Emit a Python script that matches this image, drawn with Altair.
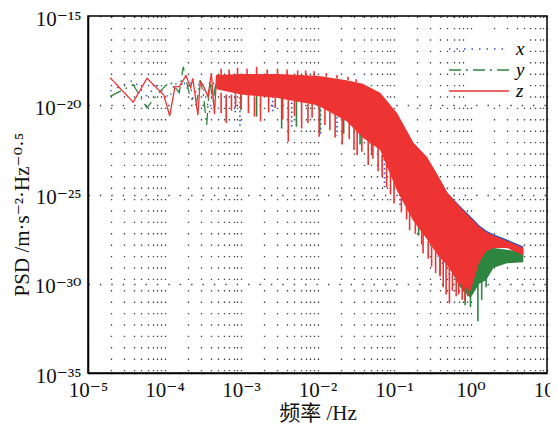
import altair as alt
import pandas as pd

SERIES = ["x", "y", "z"]
COLORS = ["#2f52b8", "#2e8540", "#ee3333"]
DASHES = [[1.5, 6], [12, 5, 2, 5], [1, 0]]

# ---- low-frequency sparse traces: frequency (Hz) and log10(PSD) ----
x_lf_f = [1.95e-5, 3.9e-5, 5.9e-5, 7.8e-5, 9.8e-5, 1.17e-4, 1.37e-4, 1.56e-4, 1.76e-4, 1.95e-4, 2.15e-4, 2.34e-4, 2.73e-4, 2.93e-4, 3.2e-4, 3.9e-4, 4.4e-4, 4.8e-4]
x_lf_e = [-19.2, -18.6, -19.5, -18.9, -19.3, -19.6, -18.7, -19.2, -18.6, -19.1, -18.7, -19.6, -19.0, -18.6, -19.0, -20.4, -18.7, -19.3]

y_lf_f = [1.95e-5, 3.9e-5, 5.9e-5, 7.8e-5, 9.8e-5, 1.17e-4, 1.37e-4, 1.56e-4, 1.76e-4, 1.95e-4, 2.15e-4, 2.6e-4, 2.93e-4, 3.2e-4, 3.56e-4, 3.9e-4, 4.3e-4, 4.8e-4]
y_lf_e = [-19.5, -18.85, -20.15, -19.47, -19.0, -18.68, -19.0, -19.3, -17.85, -18.7, -19.5, -20.0, -18.6, -19.3, -21.1, -18.6, -19.8, -18.5]

z_lf_f = [1.95e-5, 3.9e-5, 5.9e-5, 9.8e-5, 1.17e-4, 1.37e-4, 1.56e-4, 1.91e-4, 2.2e-4, 2.34e-4, 2.73e-4, 2.93e-4, 3.2e-4, 3.7e-4, 4.1e-4, 4.5e-4, 4.8e-4]
z_lf_e = [-18.46, -19.83, -18.49, -19.43, -20.6, -18.96, -18.96, -18.34, -19.03, -18.49, -20.55, -18.68, -18.87, -19.52, -18.2, -20.5, -18.3]

# ---- dense part: envelope (top / core bottom) of log10(PSD) ----
band_f = [4.8e-4, 1e-3, 3e-3, 1e-2, 2.4e-2, 3.9e-2, 6.6e-2, 0.11, 0.18, 0.27, 0.36, 0.5, 0.73, 1.0, 1.3, 1.6, 2.0, 3.0, 4.9]
x_top = [-18.4, -18.3, -18.3, -18.4, -18.65, -18.85, -19.35, -20.5, -22.15, -22.95, -23.85, -24.9, -25.65, -26.22, -26.72, -27.02, -27.22, -27.52, -27.92]
x_bot = [-19.0, -19.3, -19.5, -19.9, -20.8, -21.7, -22.4, -24.7, -26.4, -27.4, -28.2, -28.9, -29.9, -30.2, -28.6, -28.1, -27.9, -27.9, -28.3]
y_top = [-18.4, -18.35, -18.35, -18.45, -18.7, -18.9, -19.4, -20.6, -22.2, -23.0, -23.9, -25.0, -25.8, -26.6, -27.5, -27.9, -28.0, -28.1, -28.2]
y_bot = [-19.0, -19.35, -19.5, -19.9, -20.8, -21.7, -22.4, -24.7, -26.4, -27.4, -28.2, -28.9, -30.2, -30.8, -30.0, -29.8, -29.1, -28.85, -28.8]
z_top = [-18.3, -18.25, -18.25, -18.35, -18.6, -18.8, -19.3, -20.45, -22.1, -22.9, -23.8, -24.9, -25.7, -26.3, -26.8, -27.1, -27.3, -27.6, -28.0]
z_bot = [-19.1, -19.4, -19.6, -20.0, -20.9, -21.8, -22.5, -24.8, -26.5, -27.5, -28.3, -29.0, -30.0, -30.4, -28.8, -28.2, -28.0, -28.0, -28.4]

# ---- dips below the dense core (and peaks above it): frequency, from, to (log10 PSD) ----
x_spk_f = [8.4e-4, 9.7e-4, 2.6e-3, 4.6e-3, 1.1e-2, 1.8e-2, 4.9e-2, 0.07, 0.075, 0.12, 0.38, 0.43, 0.53]
x_spk_a = [-19.3, -19.3, -19.5, -19.6, -20.0, -20.4, -21.8, -22.3, -22.5, -25.0, -27.9, -28.3, -28.9]
x_spk_b = [-20.55, -21.3, -20.4, -21.2, -21.6, -21.7, -22.3, -23.25, -24.6, -25.7, -28.6, -29.05, -29.7]

y_spk_f = [1.0e-3, 1.6e-3, 3.4e-3, 5.3e-3, 1.07e-2, 2.2e-2, 3.6e-2, 5.1e-2, 8.1e-2, 0.21, 0.4, 0.85, 1.0, 1.25, 1.4, 1.6]
y_spk_a = [-19.3, -19.4, -19.5, -19.6, -19.9, -20.7, -21.3, -21.9, -22.8, -26.5, -28.5, -30.2, -30.6, -30.0, -29.7, -29.5]
y_spk_b = [-20.27, -20.64, -21.3, -21.2, -21.5, -21.6, -22.2, -22.8, -23.5, -27.3, -29.5, -31.2, -31.3, -32.1, -30.9, -30.2]

z_spk_f = [5.5e-4, 6.4e-4, 7.5e-4, 8.5e-4, 1.0e-3, 1.25e-3, 1.5e-3, 1.8e-3, 2.3e-3, 2.8e-3, 3.5e-3, 4.15e-3, 5.0e-3, 6.2e-3, 7.5e-3, 8.5e-3,
           1.05e-2, 1.25e-2, 1.45e-2, 1.7e-2, 2.1e-2, 2.6e-2, 3.0e-2, 3.3e-2, 3.8e-2, 4.6e-2, 5.3e-2, 6.2e-2, 7.0e-2, 8.0e-2, 9.0e-2,
           0.1, 0.125, 0.146, 0.16, 0.19, 0.23, 0.24, 0.28, 0.31, 0.35, 0.4, 0.44, 0.48, 0.53, 0.58, 0.65, 0.7, 0.78, 0.85, 0.92]
z_spk_a = [-19.3, -19.4, -19.4, -19.4, -19.4, -19.4, -19.5, -19.5, -19.5, -19.6, -19.6, -19.7, -19.7, -19.8, -19.9, -19.9,
           -20.0, -20.1, -20.2, -20.4, -20.6, -20.9, -21.2, -21.4, -21.7, -21.9, -22.1, -22.3, -22.8, -23.3, -23.8,
           -24.3, -25.2, -25.6, -25.9, -26.6, -27.0, -27.1, -27.6, -27.9, -28.2, -28.5, -28.7, -28.9, -29.1, -29.4, -29.6, -29.8, -30.0, -30.1, -30.2]
z_spk_b = [-20.45, -21.0, -20.3, -20.1, -20.2, -20.45, -20.64, -20.9, -20.4, -20.15, -20.8, -22.04, -20.6, -21.3, -21.0, -20.7,
           -21.76, -21.1, -21.4, -21.8, -22.2, -21.9, -22.5, -22.8, -22.6, -23.35, -23.0, -23.7, -24.0, -24.6, -25.0,
           -25.5, -26.0, -26.4, -27.0, -27.2, -27.8, -28.3, -28.6, -29.05, -29.4, -29.6, -30.2, -30.6, -31.1, -30.4, -30.7, -30.6, -30.9, -31.0, -30.7]

z_up_f = [5.5e-4, 7e-4, 9e-4, 1.2e-3, 1.6e-3, 2.2e-3, 3e-3, 4e-3, 5.5e-3, 7e-3, 9e-3, 1.3e-2, 1.8e-2, 2.5e-2, 3.2e-2]
z_up_a = [-18.3, -18.3, -18.25, -18.25, -18.25, -18.25, -18.25, -18.3, -18.3, -18.3, -18.35, -18.4, -18.5, -18.6, -18.7]
z_up_b = [-17.95, -18.0, -17.9, -17.95, -17.85, -18.0, -17.95, -18.0, -18.05, -18.05, -18.1, -18.2, -18.3, -18.4, -18.55]

X_TICK_DECADES = [-5, -4, -3, -2, -1, 0, 1]
Y_TICK_DECADES = [-35, -30, -25, -20, -15]

LF = {"x": (x_lf_f, x_lf_e), "y": (y_lf_f, y_lf_e), "z": (z_lf_f, z_lf_e)}
BAND = {"x": (x_top, x_bot), "y": (y_top, y_bot), "z": (z_top, z_bot)}
SPK = {"x": (x_spk_f, x_spk_a, x_spk_b), "y": (y_spk_f, y_spk_a, y_spk_b),
       "z": (z_spk_f + z_up_f, z_spk_a + z_up_a, z_spk_b + z_up_b)}

lf_rows = []
for s in SERIES:
    for f, e in zip(*LF[s]):
        lf_rows.append({"series": s, "f": f, "psd": 10.0 ** e})
lf_df = pd.DataFrame(lf_rows)

SUP = {"-": "\u207b", "0": "\u2070", "1": "\u00b9", "2": "\u00b2", "3": "\u00b3",
       "4": "\u2074", "5": "\u2075", "6": "\u2076", "7": "\u2077", "8": "\u2078", "9": "\u2079"}


def sup_label(e):
    return "10" + "".join(SUP[c] for c in str(e))


def label_expr(decades):
    parts = [f"abs(log(datum.value)/LN10 - ({e})) < 0.01 ? '{sup_label(e)}'" for e in decades]
    return " : ".join(parts) + " : ''"


x_grid_vals = []
for d in range(-5, 1):
    for m in range(1, 10):
        x_grid_vals.append(float(f"{m}e{d}"))
x_grid_vals.append(10.0)
y_vals = [float(f"1e{d}") for d in Y_TICK_DECADES]

FONT = "Liberation Serif, DejaVu Serif, Noto Sans CJK SC"

x_axis = alt.Axis(values=x_grid_vals, labelExpr=label_expr(X_TICK_DECADES), title="频率 /Hz",
                  grid=True, ticks=False, labelFlush=False, labelPadding=6,
                  titleX=229.5, titleY=46, titleBaseline="alphabetic")
y_axis = alt.Axis(values=y_vals, labelExpr=label_expr(Y_TICK_DECADES),
                  title="PSD /m·s\u207b\u00b2·Hz\u207b\u2070·\u2075",
                  grid=True, ticks=False, labelFlush=False, labelPadding=7, labelOffset=3,
                  titleX=-60, titleY=198, titleBaseline="alphabetic")
x_scale = alt.Scale(type="log", domain=[1e-5, 10], nice=False)
y_scale = alt.Scale(type="log", domain=[1e-35, 1e-15], nice=False)


def X(field):
    return alt.X(field, type="quantitative", scale=x_scale, axis=x_axis)


def Y(field):
    return alt.Y(field, type="quantitative", scale=y_scale, axis=y_axis)


layers = []
for s, c in zip(SERIES, COLORS):
    top, bot = BAND[s]
    bdf = pd.DataFrame({"f": band_f, "top": [10.0 ** e for e in top], "bot": [10.0 ** e for e in bot]})
    layers.append(alt.Chart(bdf).mark_area(color=c, opacity=1, interpolate="linear").encode(
        x=X("f"), y=Y("top"), y2="bot"))
    sf, sa, sb = SPK[s]
    sdf = pd.DataFrame({"f": sf, "a": [10.0 ** e for e in sa], "b": [10.0 ** e for e in sb]})
    rule_kw = dict(color=c, strokeWidth=1.6)
    if s == "x":
        rule_kw["strokeDash"] = [1.5, 3]
    layers.append(alt.Chart(sdf).mark_rule(**rule_kw).encode(x=X("f"), y=Y("a"), y2="b"))

lines = alt.Chart(lf_df).mark_line(strokeWidth=1.3).encode(
    x=X("f"), y=Y("psd"),
    color=alt.Color("series:N", scale=alt.Scale(domain=SERIES, range=COLORS),
                    legend=alt.Legend(title=None, orient="none", legendX=378, legendY=20,
                                      symbolType="M-3,0H3", symbolSize=400, symbolStrokeWidth=1.5,
                                      labelFont=FONT, labelFontStyle="italic", labelFontSize=19,
                                      fillColor="white", padding=2, rowPadding=0, labelOffset=26)),
    strokeDash=alt.StrokeDash("series:N", scale=alt.Scale(domain=SERIES, range=DASHES)),
)

chart = alt.layer(*layers, lines).properties(
    width=459, height=357,
    autosize=alt.AutoSizeParams(type="none"),
    padding={"left": 80, "top": 8, "right": 3, "bottom": 50},
).configure_view(
    stroke="black", strokeWidth=1.5
).configure_axis(
    labelFont=FONT, labelFontSize=21, labelColor="#111",
    titleFont=FONT, titleFontSize=21, titleFontWeight="normal", titleColor="#111",
    gridColor="black", gridDash=[1.4, 10], gridWidth=1.3, gridOpacity=0.75,
    domainColor="black", domainWidth=1.5,
)

chart.save("out.html", embed_options={"renderer": "svg", "actions": False})
